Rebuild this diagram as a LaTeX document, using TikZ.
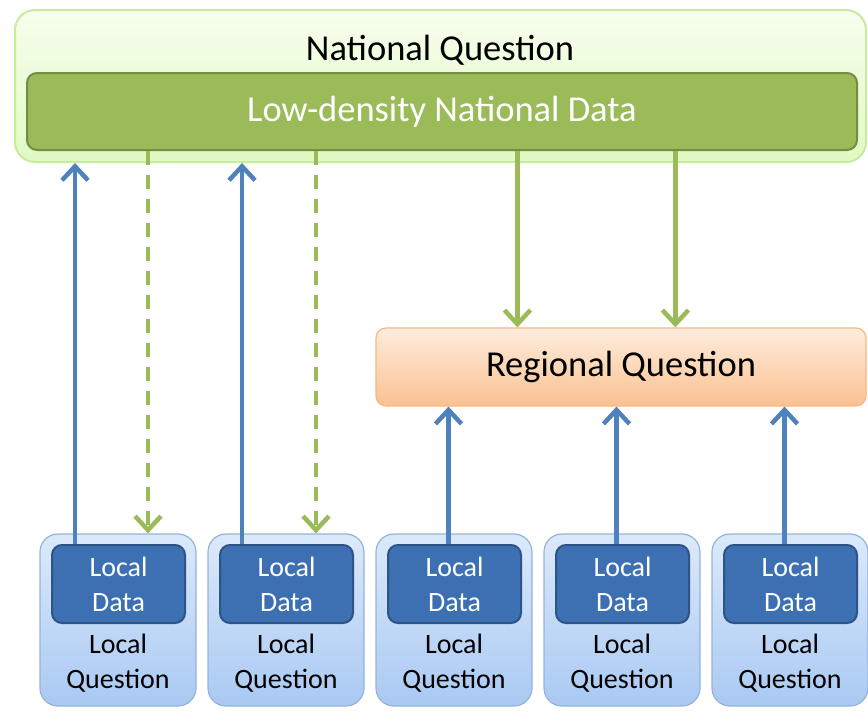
\documentclass[tikz,border=0pt]{standalone}
\usepackage{fontspec}
\setmainfont{Carlito}
\usetikzlibrary{positioning, arrows.meta, calc}
\definecolor{ncolor}{HTML}{9BBB59}
\definecolor{lcolor}{HTML}{C8EC9E}
\definecolor{ltop}{HTML}{F7FEEE}
\definecolor{lbot}{HTML}{E0FAC2}
\definecolor{bcolor}{HTML}{4F81BD}
\definecolor{btop}{HTML}{DCE9FB}
\definecolor{bbot}{HTML}{A9C9F2}
\definecolor{bdark}{HTML}{3D70B2}
\definecolor{ocolor}{HTML}{F9B67D}

\begin{document}
\begin{tikzpicture}[x=1pt, y=-1pt,
    natbox/.style={rectangle, rounded corners=20pt, draw=lcolor, line width=2pt, top color=ltop, bottom color=lbot},
    databar/.style={rectangle, rounded corners=10pt, draw=ncolor!75!black, line width=2pt, fill=ncolor, text=white},
    regbox/.style={rectangle, rounded corners=10pt, draw=ocolor, line width=1.2pt, top color=ocolor!25, bottom color=ocolor!85},
    localbox/.style={rectangle, rounded corners=18pt, draw=bcolor!60, line width=1.2pt, top color=btop, bottom color=bbot, minimum width=156pt, minimum height=172pt},
    localdata/.style={rectangle, rounded corners=10pt, draw=bdark!75!black, line width=2pt, fill=bdark, text=white, align=center, minimum width=133pt, minimum height=78pt},
    big/.style={font=\fontsize{36.5}{42}\selectfont},
    small/.style={font=\fontsize{28}{35}\selectfont, align=center},
    uparr/.style={-{Straight Barb[length=14pt, width=26pt, line width=4.5pt]}, line width=4.5pt, draw=bcolor},
    downarr/.style={-{Straight Barb[length=14pt, width=26pt, line width=4.5pt]}, line width=4.5pt, draw=ncolor},
    dasharr/.style={downarr, dash pattern=on 14pt off 10pt},
  ]
    \useasboundingbox (0,0) rectangle (868,712);

    % National level
    \node[natbox, minimum width=851pt, minimum height=152pt] (nat) at (440.5,86) {};
    \node[big] (natq) at (440,50) {National Question};
    \node[databar, big, minimum width=830pt, minimum height=77pt] (natdata) at (442,111.5) {Low-density National Data};

    % Regional level
    \node[regbox, big, minimum width=490pt, minimum height=78pt] (reg) at (621,367) {Regional Question};

    % Local boxes
    \node[localbox] (loc1) at (118,620) {};
    \node[localbox] (loc2) at (286,620) {};
    \node[localbox] (loc3) at (454,620) {};
    \node[localbox] (loc4) at (622,620) {};
    \node[localbox] (loc5) at (790,620) {};

    \node[localdata, small] (dat1) at (118.5,584) {Local\\Data};
    \node[localdata, small] (dat2) at (286.5,584) {Local\\Data};
    \node[localdata, small] (dat3) at (454.5,584) {Local\\Data};
    \node[localdata, small] (dat4) at (622.5,584) {Local\\Data};
    \node[localdata, small] (dat5) at (790.5,584) {Local\\Data};

    \node[small] (q1) at (118,663) {Local\\Question};
    \node[small] (q2) at (286,663) {Local\\Question};
    \node[small] (q3) at (454,663) {Local\\Question};
    \node[small] (q4) at (622,663) {Local\\Question};
    \node[small] (q5) at (790,663) {Local\\Question};

    % Local -> national
    \draw[uparr] ([xshift=-43.5pt]dat1.north) -- ([xshift=-43.5pt]dat1.north |- nat.south);
    \draw[uparr] ([xshift=-44.5pt]dat2.north) -- ([xshift=-44.5pt]dat2.north |- nat.south);

    % National -> local (dashed)
    \draw[dasharr] ([xshift=30pt]loc1.north |- natdata.south) -- ([xshift=30pt]loc1.north);
    \draw[dasharr] ([xshift=30pt]loc2.north |- natdata.south) -- ([xshift=30pt]loc2.north);

    % National -> regional
    \draw[downarr] ([xshift=142pt]reg.north west |- natdata.south) -- ([xshift=142pt]reg.north west);
    \draw[downarr] ([xshift=300pt]reg.north west |- natdata.south) -- ([xshift=300pt]reg.north west);

    % Local -> regional
    \draw[uparr] ([xshift=-6pt]dat3.north) -- ([xshift=-6pt]dat3.north |- reg.south);
    \draw[uparr] ([xshift=-6pt]dat4.north) -- ([xshift=-6pt]dat4.north |- reg.south);
    \draw[uparr] ([xshift=-6pt]dat5.north) -- ([xshift=-6pt]dat5.north |- reg.south);
  \end{tikzpicture}
\end{document}
